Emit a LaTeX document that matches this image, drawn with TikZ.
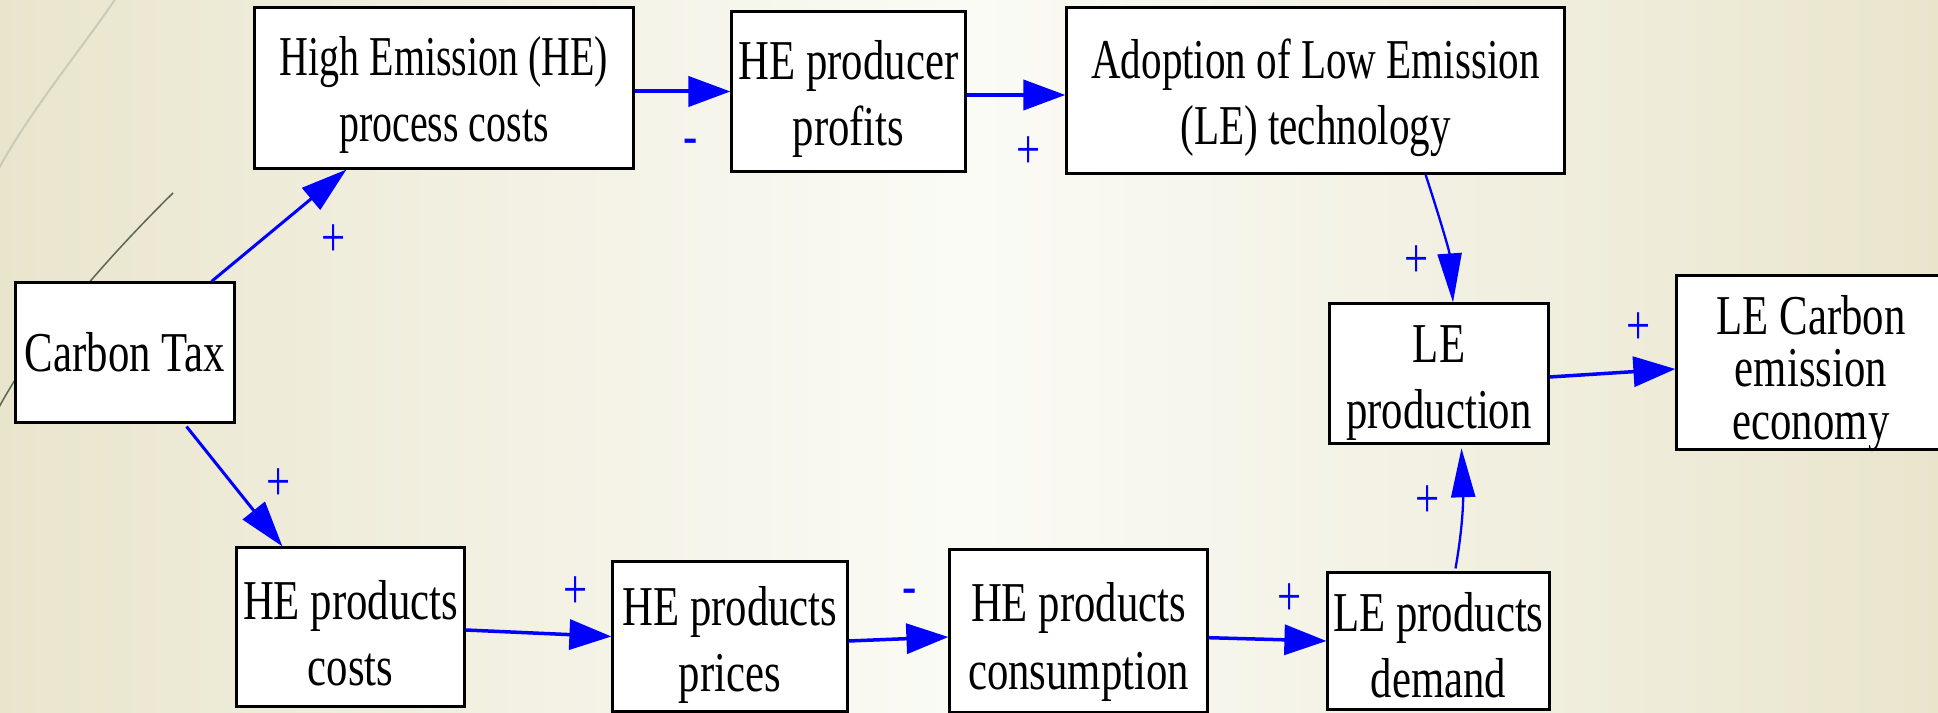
\documentclass[tikz,border=0pt]{standalone}
\usepackage{fontspec}
\setmainfont{Liberation Serif}[FakeStretch=0.76]
\newfontfamily\narrowA{Liberation Serif}[FakeStretch=0.71]
\newfontfamily\narrowB{Liberation Serif}[FakeStretch=0.73]
\usetikzlibrary{arrows.meta,calc}
\definecolor{bgedge}{HTML}{E9E5CD}
\definecolor{bgmid}{HTML}{FBFBF6}
\definecolor{arcl}{HTML}{C8CCB6}
\definecolor{arcd}{HTML}{5C6650}
\definecolor{cblue}{HTML}{0000FF}
\begin{document}
\begin{tikzpicture}[x=0.01cm,y=-0.01cm,
  box/.style={draw=black,line width=0.03cm,fill=white,inner sep=0pt},
  txt/.style={inner sep=0pt,align=center,font=\fontsize{16}{18.8}\selectfont},
  conn/.style={draw=cblue,line width=0.035cm,-{Triangle[length=0.42cm,width=0.30cm]}},
  diag/.style={draw=cblue,line width=0.03cm,-{Triangle[length=0.46cm,width=0.28cm]}},
  curv/.style={draw=cblue,line width=0.023cm,-{Triangle[length=0.49cm,width=0.24cm]}},
  sign/.style={text=cblue,inner sep=0pt,font=\fontsize{16}{16}\selectfont}]
\useasboundingbox (0,0) rectangle (1938,713);
\clip (0,0) rectangle (1938,713);
\shade[left color=bgedge,right color=bgedge,middle color=bgmid] (0,0) rectangle (1938,713);
% decorative arcs
\draw[arcl,line width=0.02cm] (118,-5) .. controls (85,45) and (30,110) .. (-3,172);
\draw[arcd,line width=0.015cm] (173,193) .. controls (110,255) and (30,345) .. (-5,415);
% boxes
\node[box,minimum width=3.78cm,minimum height=1.60cm] (hepc) at (444,88) {};
\node[box,minimum width=2.33cm,minimum height=1.59cm] (hepp) at (848.5,91.5) {};
\node[box,minimum width=4.97cm,minimum height=1.65cm] (adopt) at (1315.5,90.5) {};
\node[box,minimum width=2.18cm,minimum height=1.39cm] (ctax) at (125,352.5) {};
\node[box,minimum width=2.27cm,minimum height=1.58cm] (hecost) at (350.5,627) {};
\node[box,minimum width=2.34cm,minimum height=1.49cm] (heprice) at (730,636.5) {};
\node[box,minimum width=2.57cm,minimum height=1.62cm] (hecons) at (1078.5,631) {};
\node[box,minimum width=2.21cm,minimum height=1.36cm] (ledem) at (1438.5,641) {};
\node[box,minimum width=2.18cm,minimum height=1.39cm] (leprod) at (1439,373.5) {};
\node[box,minimum width=2.68cm,minimum height=1.73cm] (lecarb) at (1811,362.5) {};
% texts
\node[txt,font=\narrowA\fontsize{16}{18.5}\selectfont] (hepc-t) at ([yshift=-0.07cm]hepc.center) {High Emission (HE)\\process costs};
\node[txt] (hepp-t) at ([yshift=-0.075cm]hepp.center) {HE producer\\profits};
\node[txt,font=\narrowB\fontsize{16}{18.8}\selectfont] (adopt-t) at ([yshift=-0.075cm]adopt.center) {Adoption of Low Emission\\(LE) technology};
\node[txt] (ctax-t) at (ctax.center) {Carbon Tax};
\node[txt] (hecost-t) at ([yshift=-0.06cm]hecost.center) {HE products\\costs};
\node[txt] (heprice-t) at ([yshift=-0.085cm]heprice.center) {HE products\\prices};
\node[txt,font=\fontsize{16}{19.3}\selectfont] (hecons-t) at ([yshift=-0.11cm]hecons.center) {HE products\\consumption};
\node[txt] (ledem-t) at ([yshift=-0.04cm]ledem.center) {LE products\\demand};
\node[txt] (leprod-t) at ([yshift=-0.10cm]leprod.center) {LE\\production};
\node[txt,font=\fontsize{16}{15}\selectfont] (lecarb-t) at ([yshift=-0.11cm]lecarb.center) {LE Carbon\\emission\\economy};
% connectors
\draw[diag] ([xshift=-0.24cm]ctax.north east) -- ([xshift=0.93cm]hepc.south west);
\draw[diag] ([xshift=-0.49cm,yshift=-0.03cm]ctax.south east) -- ([xshift=0.47cm]hecost.north west);
\draw[conn,line width=0.04cm] (hepc.east |- hepp.west) -- (hepp.west);
\draw[conn,line width=0.04cm] ([yshift=-0.035cm]hepp.east) -- ([yshift=-0.035cm]hepp.east -| adopt.west);
\draw[curv] ([xshift=1.1cm]adopt.south) to[out=-72,in=94] ([xshift=0.14cm]leprod.north);
\draw[curv] ([xshift=0.17cm,yshift=0.03cm]ledem.north) to[out=80,in=-88] ([xshift=0.225cm,yshift=-0.037cm]leprod.south);
\draw[conn] ([yshift=-0.035cm]leprod.east) -- ([yshift=-0.065cm]lecarb.west);
\draw[conn] ([yshift=-0.03cm]hecost.east) -- (heprice.west);
\draw[conn] ([yshift=-0.045cm]heprice.east) -- ([yshift=-0.06cm]hecons.west);
\draw[conn] ([yshift=-0.067cm]hecons.east) -- (ledem.west);
% signs
\node[sign] (s1) at (334,241) {+};
\node[sign] (s2) at (279,485) {+};
\node[sign] (s3) at (691,147) {-};
\node[sign] (s4) at (1029,153) {+};
\node[sign] (s5) at (1417,262) {+};
\node[sign] (s6) at (1639,329) {+};
\node[sign] (s7) at (1428,502) {+};
\node[sign] (s8) at (576,593) {+};
\node[sign] (s9) at (910,597) {-};
\node[sign] (s10) at (1290,600) {+};
\end{tikzpicture}
\end{document}
